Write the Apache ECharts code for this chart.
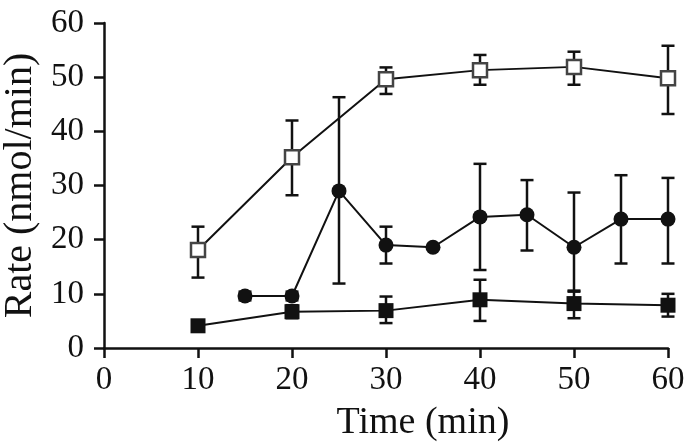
<!DOCTYPE html>
<html>
<head>
<meta charset="utf-8">
<script src="https://cdn.jsdelivr.net/npm/echarts@6/dist/echarts.min.js"></script>
<style>
  html, body { margin: 0; padding: 0; background: #fff; }
  #chart { width: 686px; height: 445px; }
</style>
</head>
<body>
<div id="chart"></div>
<script>
// x ticks / y ticks
const xTicks = [0, 10, 20, 30, 40, 50, 60];
const yTicks = [0, 10, 20, 30, 40, 50, 60];

// open squares
const openX = [10, 20, 30, 40, 50, 60];
const openY = [18.1, 35.2, 49.6, 51.3, 51.9, 49.8];
const openLo = [13.0, 28.2, 46.9, 48.6, 48.6, 43.2];
const openHi = [22.4, 42.0, 51.8, 54.1, 54.7, 55.8];

// filled circles
const circX = [15, 20, 25, 30, 35, 40, 45, 50, 55, 60];
const circY = [9.6, 9.6, 29.0, 19.0, 18.6, 24.2, 24.6, 18.6, 23.8, 23.8];
const circLo = [8.8, 8.8, 11.9, 15.6, 18.6, 14.4, 18.0, 10.4, 15.6, 15.6];
const circHi = [10.4, 10.4, 46.3, 22.4, 18.6, 34.0, 31.0, 28.7, 31.9, 31.4];

// filled squares
const sqX = [10, 20, 30, 40, 50, 60];
const sqY = [4.1, 6.7, 6.9, 8.9, 8.2, 7.9];
const sqLo = [4.1, 5.5, 4.6, 5.0, 5.5, 5.8];
const sqHi = [4.1, 7.9, 9.5, 12.6, 10.6, 10.0];

const zip = (a, b) => a.map((v, i) => [v, b[i]]);
const zip3 = (a, b, c) => a.map((v, i) => [v, b[i], c[i]]);

const font = '"Liberation Serif", "Times New Roman", serif';
const ink = '#111';

function errorBars(params, api) {
  const x = api.value(0);
  const lo = api.coord([x, api.value(1)]);
  const hi = api.coord([x, api.value(2)]);
  const w = 6.5;
  const st = { stroke: ink, lineWidth: 2.5 };
  return {
    type: 'group',
    children: [
      { type: 'line', shape: { x1: lo[0], y1: lo[1], x2: hi[0], y2: hi[1] }, style: st },
      { type: 'line', shape: { x1: hi[0] - w, y1: hi[1], x2: hi[0] + w, y2: hi[1] }, style: st },
      { type: 'line', shape: { x1: lo[0] - w, y1: lo[1], x2: lo[0] + w, y2: lo[1] }, style: st }
    ]
  };
}

function errSeries(x, lo, hi) {
  return {
    type: 'custom',
    renderItem: errorBars,
    data: zip3(x, lo, hi),
    encode: { x: 0, y: [1, 2] },
    z: 1,
    silent: true
  };
}

const chart = echarts.init(document.getElementById('chart'), null, { renderer: 'canvas' });

chart.setOption({
  animation: false,
  backgroundColor: '#fff',
  grid: { left: 104, right: 18, top: 23, bottom: 97, containLabel: false, outerBoundsMode: 'none' },
  xAxis: {
    type: 'value',
    min: xTicks[0],
    max: xTicks[xTicks.length - 1],
    interval: 10,
    name: 'Time (min)',
    nameLocation: 'middle',
    nameGap: 56,
    nameTextStyle: { fontFamily: font, fontSize: 38, color: ink, padding: [0, 0, 0, 74] },
    axisLine: { lineStyle: { color: ink, width: 2.5 } },
    axisTick: { inside: false, length: 10, lineStyle: { color: ink, width: 2.5 } },
    axisLabel: { fontFamily: font, fontSize: 33, color: ink, margin: 16 },
    splitLine: { show: false }
  },
  yAxis: {
    type: 'value',
    min: yTicks[0],
    max: yTicks[yTicks.length - 1],
    interval: 10,
    name: 'Rate (nmol/min)',
    nameLocation: 'middle',
    nameGap: 64,
    nameTextStyle: { fontFamily: font, fontSize: 40, color: ink },
    axisLine: { show: true, lineStyle: { color: ink, width: 2.5 } },
    axisTick: { show: true, inside: false, length: 10, lineStyle: { color: ink, width: 2.5 } },
    axisLabel: { fontFamily: font, fontSize: 33, color: ink, margin: 20 },
    splitLine: { show: false }
  },
  series: [
    errSeries(openX, openLo, openHi),
    errSeries(circX, circLo, circHi),
    errSeries(sqX, sqLo, sqHi),
    {
      type: 'line',
      data: zip(openX, openY),
      symbol: 'rect',
      symbolSize: 14,
      lineStyle: { color: ink, width: 2 },
      itemStyle: { color: '#fff', borderColor: '#444', borderWidth: 2.5 },
      z: 3
    },
    {
      type: 'line',
      data: zip(circX, circY),
      symbol: 'circle',
      symbolSize: 15,
      lineStyle: { color: ink, width: 2 },
      itemStyle: { color: ink },
      z: 3
    },
    {
      type: 'line',
      data: zip(sqX, sqY),
      symbol: 'rect',
      symbolSize: 15,
      lineStyle: { color: ink, width: 2 },
      itemStyle: { color: ink },
      z: 4
    }
  ]
});
</script>
</body>
</html>
